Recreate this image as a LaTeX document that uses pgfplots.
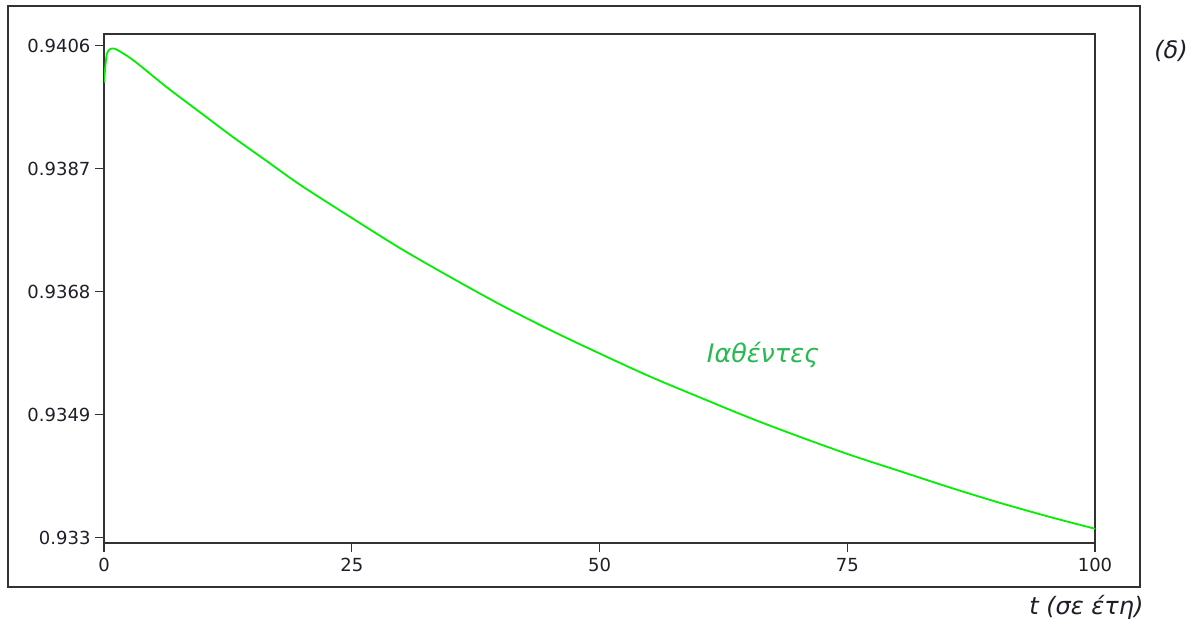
\documentclass[border=0pt]{standalone}
\usepackage{pgfplots}
\pgfplotsset{compat=1.18}
\usepackage{fontspec}
\setmainfont{DejaVu Sans}
\definecolor{framegray}{RGB}{50,50,50}
\definecolor{curvegreen}{RGB}{0,240,0}
\definecolor{annotgreen}{RGB}{40,185,80}
\definecolor{labelcol}{RGB}{30,30,40}
\pgfplotstableread{
x y
0 0.94003
0.15 0.94030
0.3 0.94048
0.6 0.940545
1.0 0.940555
1.5 0.94052
3.0 0.94037
6.4 0.93995
9.7 0.93957
13.0 0.93919
16.4 0.93882
19.8 0.93845
25.0 0.93794
29.9 0.93747
34.9 0.93703
40.0 0.93660
45.0 0.93621
50.1 0.93584
55.1 0.93549
60.1 0.93517
65.2 0.93485
70.2 0.93456
75.3 0.93428
80.3 0.93403
85.3 0.93378
90.4 0.93354
95.5 0.93332
100 0.93314
}\curve
\begin{document}
\begin{tikzpicture}[x=1pt,y=1pt]
\useasboundingbox (0,0) rectangle (1193,624);
\draw[framegray, line width=1.6pt] (8,37) rectangle (1140,618);
\begin{axis}[
  at={(104pt,81pt)}, anchor=south west,
  width=991pt, height=509pt, scale only axis,
  xmin=0, xmax=100,
  ymin=0.93292, ymax=0.94078,
  axis line style={framegray, line width=1.4pt},
  tick style={framegray, line width=1.2pt},
  tick align=outside,
  major tick length=9pt,
  xtick pos=bottom, ytick pos=left,
  xtick={0,25,50,75,100},
  xticklabels={0,25,50,75,100},
  ytick={0.933,0.9349,0.9368,0.9387,0.9406},
  yticklabels={0.933,0.9349,0.9368,0.9387,0.9406},
  ticklabel style={font=\fontsize{18}{21}\selectfont, text=labelcol},
  xticklabel style={yshift=-3pt},
  yticklabel style={xshift=-1pt},
  clip=true,
]
\addplot[curvegreen, line width=1.8pt, smooth, tension=0.5] table[x=x,y=y] {\curve};
\node[font=\fontsize{25.5}{30}\selectfont\itshape, text=annotgreen] at (axis cs:66.5,0.93583) {Ιαθέντες};
\end{axis}
\node[font=\fontsize{24}{28}\selectfont\itshape, text=labelcol, anchor=east] at (1147,17) {t (σε έτη)};
\node[font=\fontsize{24}{28}\selectfont\itshape, text=labelcol] at (1171,573) {(δ)};
\end{tikzpicture}
\end{document}
